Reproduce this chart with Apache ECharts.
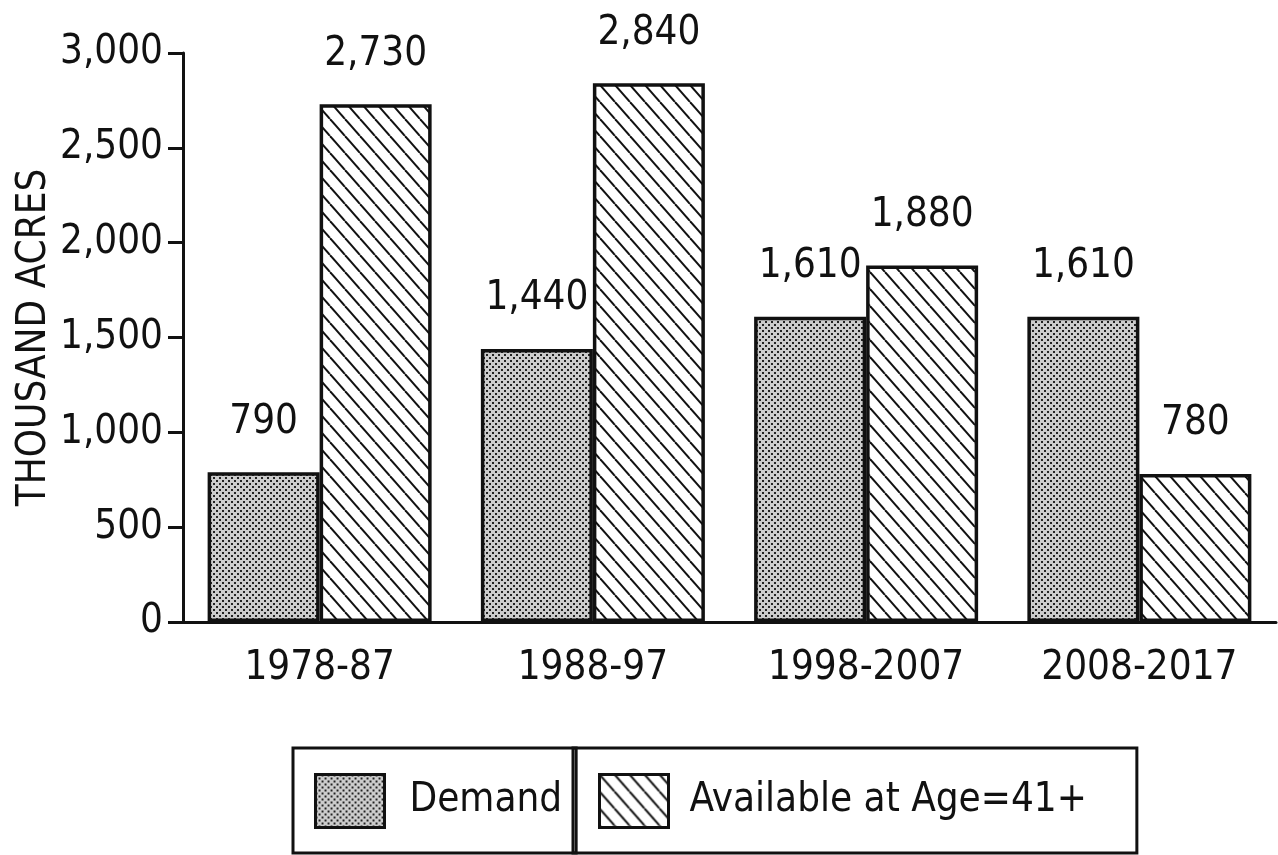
<!DOCTYPE html>
<html>
<head>
<meta charset="utf-8">
<script src="https://cdn.jsdelivr.net/npm/echarts@6/dist/echarts.min.js"></script>
<style>
  html, body { margin: 0; padding: 0; background: #fff; }
  #chart { width: 1278px; height: 855px; }
</style>
</head>
<body>
<div id="chart"></div>
<script>
// data
var categories = ['1978-87', '1988-97', '1998-2007', '2008-2017'];
var demand = [790, 1440, 1610, 1610];
var available = [2730, 2840, 1880, 780];
var seriesNames = ['Demand', 'Available at Age=41+'];

var FONT = "'DejaVu Sans Condensed', 'Liberation Sans Narrow', sans-serif";
var FS = 40;

// stipple fill for Demand
function dotPattern() {
    var c = document.createElement('canvas');
    c.width = 6; c.height = 6;
    var ctx = c.getContext('2d');
    ctx.fillStyle = '#cccccc';
    ctx.fillRect(0, 0, 6, 6);
    ctx.fillStyle = '#222';
    ctx.fillRect(0, 0, 2, 2);
    ctx.fillRect(3, 3, 2, 2);
    return c;
}

// "\" hatch for Available
function hatchPattern() {
    var w = 15, h = 17;
    var c = document.createElement('canvas');
    c.width = w; c.height = h;
    var ctx = c.getContext('2d');
    ctx.fillStyle = '#fff';
    ctx.fillRect(0, 0, w, h);
    ctx.strokeStyle = '#111';
    ctx.lineWidth = 2;
    for (var k = -1; k <= 1; k++) {
        ctx.beginPath();
        ctx.moveTo(k * w, 0);
        ctx.lineTo(k * w + w, h);
        ctx.stroke();
    }
    return c;
}

var dom = document.getElementById('chart');
var myChart = echarts.init(dom, null, { renderer: 'canvas' });

function commas(v) {
    return Number(v).toLocaleString('en-US');
}

var legendBase = {
    top: 748,
    orient: 'horizontal',
    borderColor: '#111',
    borderWidth: 3,
    borderRadius: 0,
    itemWidth: 69,
    itemHeight: 53,
    icon: 'rect',
    itemStyle: { borderColor: '#111', borderWidth: 3 },
    textStyle: { fontFamily: FONT, fontSize: FS, color: '#111', lineHeight: 53 }
};

var option = {
    backgroundColor: '#fff',
    animation: false,
    grid: {
        left: 183,
        right: 2,
        top: 53,
        bottom: 233,
        containLabel: false,
        outerBoundsMode: 'none'
    },
    legend: [
        Object.assign({}, legendBase, {
            data: [seriesNames[0]],
            left: 293,
            padding: [25, 14, 24, 21],
            textStyle: Object.assign({}, legendBase.textStyle, { padding: [0, 0, 0, 20] })
        }),
        Object.assign({}, legendBase, {
            data: [seriesNames[1]],
            left: 573,
            padding: [25, 50, 24, 25],
            textStyle: Object.assign({}, legendBase.textStyle, { padding: [0, 0, 0, 16] })
        })
    ],
    xAxis: {
        type: 'category',
        data: categories,
        axisLine: { lineStyle: { color: '#111', width: 3 } },
        axisTick: { alignWithLabel: true, length: 14, lineStyle: { color: '#111', width: 3 } },
        axisLabel: { interval: 0, fontFamily: FONT, fontSize: FS, color: '#111', margin: 27 }
    },
    yAxis: {
        type: 'value',
        min: 0,
        max: 3000,
        interval: 500,
        name: 'THOUSAND ACRES',
        nameLocation: 'middle',
        nameGap: 128,
        nameMoveOverlap: false,
        nameTextStyle: { fontFamily: FONT, fontSize: FS, color: '#111' },
        axisLine: { show: true, lineStyle: { color: '#111', width: 3 } },
        axisTick: { show: true, length: 15, lineStyle: { color: '#111', width: 3 } },
        splitLine: { show: false },
        axisLabel: {
            fontFamily: FONT, fontSize: FS, color: '#111', margin: 20,
            formatter: commas
        }
    },
    series: [
        {
            name: seriesNames[0],
            type: 'bar',
            data: demand,
            barWidth: 112,
            barGap: '0%',
            itemStyle: {
                color: { image: dotPattern(), repetition: 'repeat' },
                borderColor: '#111',
                borderWidth: 3.5
            },
            label: {
                show: true,
                position: 'top',
                distance: 30,
                fontFamily: FONT, fontSize: FS, color: '#111',
                formatter: function (p) { return commas(p.value); }
            }
        },
        {
            name: seriesNames[1],
            type: 'bar',
            data: available,
            barWidth: 112,
            barGap: '0%',
            itemStyle: {
                color: { image: hatchPattern(), repetition: 'repeat' },
                borderColor: '#111',
                borderWidth: 3.5
            },
            label: {
                show: true,
                position: 'top',
                distance: 30,
                fontFamily: FONT, fontSize: FS, color: '#111',
                formatter: function (p) { return commas(p.value); }
            }
        }
    ]
};

if (option && typeof option === 'object') {
    myChart.setOption(option);
}
</script>
</body>
</html>
